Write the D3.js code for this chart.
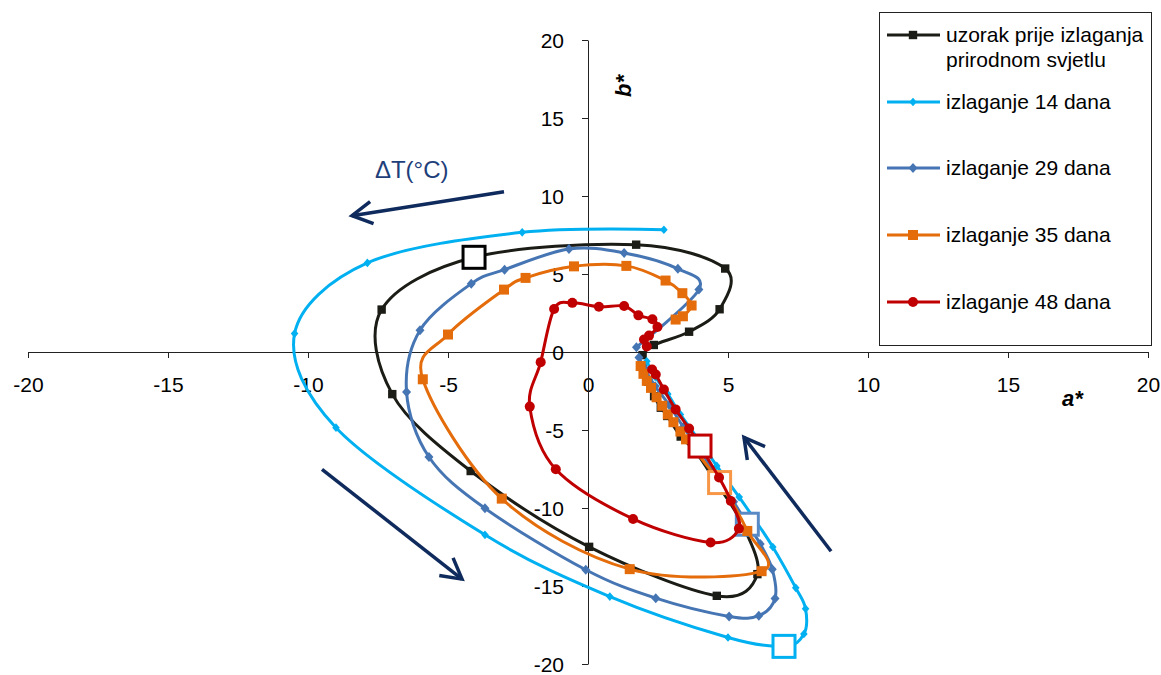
<!DOCTYPE html>
<html><head><meta charset="utf-8">
<script src="https://cdn.jsdelivr.net/npm/d3@7"></script>
<style>
body{margin:0;background:#fff;}
text{font-family:"Liberation Sans",Arial,sans-serif;}
</style>
</head><body>
<svg id="chart" width="1161" height="675"></svg>
<script>
// ---------- data ----------
const aTicks = [-20,-15,-10,-5,0,5,10,15,20];
const bTicks = [-20,-15,-10,-5,0,5,10,15,20];
const seriesNames = ["uzorak prije izlaganja|prirodnom svjetlu","izlaganje 14 dana","izlaganje 29 dana","izlaganje 35 dana","izlaganje 48 dana"];

const uzorak = [[1.95,-0.2],[2.35,0.45],[3.61,1.3],[4.7,2.74],[4.9,5.35],[1.72,6.88],[-4.07,6.07],[-7.37,2.72],[-6.99,-2.7],[-4.19,-7.63],[0.04,-12.49],[4.6,-15.63],[6.05,-14.24],[5.5,-11.0],[4.55,-8.3],[3.85,-6.4],[3.31,-5.42],[2.83,-4.1],[2.6,-3.57],[2.36,-2.83],[2.15,-1.9],[1.95,-0.9]];

const dana14 = [[2.71,7.84],[-2.35,7.67],[-7.88,5.71],[-10.48,1.18],[-9.0,-4.85],[-3.68,-11.72],[0.78,-15.68],[5.0,-18.3],[7.0,-18.87],[7.71,-18.08],[7.77,-16.46],[7.42,-15.12],[6.6,-12.5],[5.9,-10.6],[5.4,-9.3],[4.6,-7.3],[3.9,-5.5],[3.3,-4.0],[2.85,-2.7],[2.4,-1.6],[2.1,-0.6]];

const dana29 = [[1.73,0.31],[3.96,4.0],[3.21,5.33],[1.29,6.35],[-0.68,6.6],[-2.98,5.28],[-4.17,4.38],[-6.0,1.4],[-6.48,-2.57],[-5.68,-6.73],[-3.68,-10.02],[-0.08,-13.96],[2.42,-15.78],[5.04,-16.95],[6.1,-16.9],[6.68,-15.8],[6.58,-13.92],[6.15,-12.3],[5.69,-11.04],[5.2,-9.6],[4.6,-8.0],[4.0,-6.3],[3.4,-4.8],[2.9,-3.4],[2.4,-2.2],[2.0,-1.0],[1.82,-0.35]];

const dana35 = [[3.13,2.08],[3.39,2.29],[3.7,2.98],[3.37,3.77],[2.77,4.58],[1.37,5.52],[-0.5,5.49],[-2.23,4.75],[-3.0,4.0],[-5.0,1.12],[-5.9,-1.75],[-3.08,-9.4],[1.49,-13.92],[6.2,-14.05],[5.69,-11.47],[4.7,-8.37],[3.5,-5.6],[3.3,-5.1],[3.05,-4.5],[2.85,-4.0],[2.65,-3.45],[2.45,-2.9],[2.25,-2.3],[2.1,-1.85],[1.98,-1.4],[1.88,-0.9]];

const dana48 = [[2.1,0.35],[2.0,0.8],[2.18,1.05],[2.48,1.6],[2.3,2.1],[1.8,2.35],[1.29,2.95],[0.39,2.9],[-0.56,3.15],[-1.21,2.76],[-1.69,-0.65],[-2.08,-3.5],[-1.15,-7.52],[1.61,-10.7],[4.38,-12.21],[5.39,-11.32],[5.1,-9.55],[4.68,-8.05],[4.0,-6.03],[3.61,-4.9],[3.13,-3.68],[2.71,-2.4],[2.42,-1.44],[2.29,-1.12]];

// highlighted points (large open squares), one per series
const highlightA = [-4.07, 7.0, 5.69, 4.7, 4.0];
const highlightB = [6.07, -18.87, -11.04, -8.37, -6.03];

// ΔT direction arrows (tail a, tail b, tip a, tip b)
const arrowTail = [[-3.0,10.27],[-9.5,-7.52],[8.68,-12.77]];
const arrowTip  = [[-8.43,8.74],[-4.5,-14.56],[5.57,-5.47]];
const arrowLabel = "ΔT(°C)";
const arrowLabelPos = [-7.61, 11.17];

// ---------- styles ----------
const allSeries = [uzorak, dana14, dana29, dana35, dana48];
const colors = ["#1c1c16","#00B0F0","#4675B3","#E46C0A","#C00000"];
const hlColors = ["#000000","#00B0F0","#5A8AC6","#F79646","#C00000"];
const markerType = ["square","diamondS","diamond","squareL","circle"];

const svg = d3.select("#chart");
const x = d3.scaleLinear().domain([-20,20]).range([28,1148]);
const y = d3.scaleLinear().domain([-20,20]).range([664,40]);
const fmt = d => String(d);

// axes
const xAxis = svg.append("g").attr("transform",`translate(0,${y(0)})`)
  .call(d3.axisBottom(x).tickValues(aTicks).tickSize(6).tickSizeOuter(0).tickFormat(fmt));
xAxis.selectAll("text").attr("y",39.5).attr("dy",0).attr("font-size",21).attr("fill","#000")
  .style("font-family","'Liberation Sans',Arial,sans-serif");
const yAxis = svg.append("g").attr("transform",`translate(${x(0)},0)`)
  .call(d3.axisLeft(y).tickValues(bTicks).tickSize(6).tickSizeOuter(0).tickFormat(fmt));
yAxis.selectAll("text").attr("x",-24).attr("dy","0.35em").attr("font-size",21).attr("fill","#000")
  .style("font-family","'Liberation Sans',Arial,sans-serif");
svg.selectAll(".domain, .tick line").attr("stroke","#222").attr("stroke-width",1);

// axis titles
svg.append("text").attr("x",1062).attr("y",406).attr("font-size",22).attr("font-weight","bold")
  .attr("font-style","italic").text("a*");
svg.append("text").attr("transform","translate(631,86) rotate(-90)").attr("text-anchor","middle")
  .attr("font-size",22).attr("font-weight","bold").attr("font-style","italic").text("b*");

// markers
function markerPath(type){
  switch(type){
    case "square": return "M-4.2,-4.2H4.2V4.2H-4.2Z";
    case "squareL": return "M-5,-5H5V5H-5Z";
    case "diamond": return "M0,-5L4.5,0L0,5L-4.5,0Z";
    case "diamondS": return "M0,-4.3L3.8,0L0,4.3L-3.8,0Z";
    case "circle": return d3.symbol(d3.symbolCircle, Math.PI*25)();
  }
}

const line = d3.line().x(d=>x(d[0])).y(d=>y(d[1])).curve(d3.curveCatmullRom.alpha(0));

allSeries.forEach((data,i)=>{
  const g = svg.append("g");
  g.append("path").attr("d",line(data)).attr("fill","none").attr("stroke",colors[i])
    .attr("stroke-width",3).attr("stroke-linejoin","round");
  g.selectAll("path.m").data(data).join("path").attr("class","m")
    .attr("d",markerPath(markerType[i])).attr("fill",colors[i])
    .attr("transform",d=>`translate(${x(d[0])},${y(d[1])})`);
  g.append("rect").attr("x",x(highlightA[i])-11).attr("y",y(highlightB[i])-11)
    .attr("width",22).attr("height",22).attr("fill","#fff")
    .attr("stroke",hlColors[i]).attr("stroke-width",3);
});

// arrows
const arrowColor = "#0F2A5C";
arrowTail.forEach((t,i)=>{
  const p = arrowTip[i];
  const x1=x(t[0]), y1=y(t[1]), x2=x(p[0]), y2=y(p[1]);
  const ang = Math.atan2(y1-y2, x1-x2);
  const L=23, w=Math.PI/6.2;
  const g = svg.append("g").attr("stroke",arrowColor).attr("stroke-width",3.5).attr("fill","none")
    .attr("stroke-linecap","butt").attr("stroke-linejoin","miter");
  g.append("line").attr("x1",x1).attr("y1",y1).attr("x2",x2).attr("y2",y2);
  g.append("path").attr("d",`M${x2+L*Math.cos(ang+w)},${y2+L*Math.sin(ang+w)}L${x2},${y2}L${x2+L*Math.cos(ang-w)},${y2+L*Math.sin(ang-w)}`);
});
svg.append("text").attr("x",x(arrowLabelPos[0])).attr("y",y(arrowLabelPos[1]))
  .attr("font-size",24).attr("fill","#1F3F7A").text(arrowLabel);

// legend
const lg = svg.append("g");
lg.append("rect").attr("x",879.5).attr("y",12.5).attr("width",272).attr("height",333)
  .attr("fill","#fff").attr("stroke","#222").attr("stroke-width",1);
const rowY = [35,102,168,235,302];
seriesNames.forEach((name,i)=>{
  const ry = rowY[i];
  lg.append("line").attr("x1",887).attr("x2",940).attr("y1",ry).attr("y2",ry)
    .attr("stroke",colors[i]).attr("stroke-width",3);
  lg.append("path").attr("d",markerPath(markerType[i])).attr("fill",colors[i])
    .attr("transform",`translate(913,${ry})`);
  const parts = name.split("|");
  parts.forEach((p,k)=>{
    lg.append("text").attr("x",946).attr("y",ry+25*k).attr("dy","0.35em")
      .attr("font-size",21).attr("fill","#000").text(p);
  });
});
</script>
</body></html>
